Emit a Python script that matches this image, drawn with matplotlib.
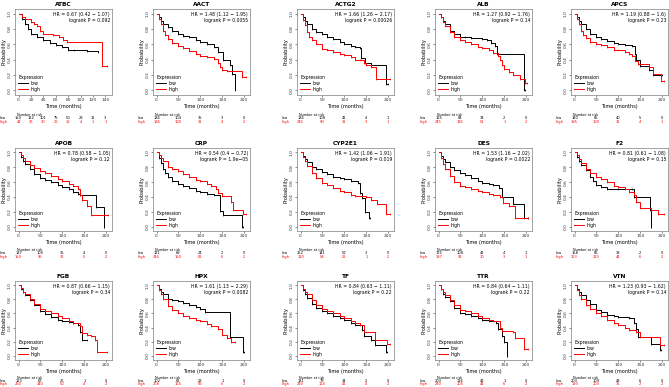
import matplotlib.pyplot as plt
import numpy as np

plt.rcParams['font.family'] = 'DejaVu Sans'

genes = ["ATBC", "AACT", "ACTG2", "ALB", "APCS",
         "APOB", "CRP", "CYP2E1", "DES", "F2",
         "FGB", "HPX", "TF", "TTR", "VTN"]
hr_labels = ["HR = 0.67 (0.42 \u2212 1.07)", "HR = 1.48 (1.12 \u2212 1.95)", "HR = 1.66 (1.26 \u2212 2.17)",
             "HR = 1.27 (0.92 \u2212 1.76)", "HR = 1.19 (0.88 \u2212 1.6)",
             "HR = 0.78 (0.58 \u2212 1.05)", "HR = 0.54 (0.4 \u2212 0.72)", "HR = 1.42 (1.06 \u2212 1.91)",
             "HR = 1.53 (1.16 \u2212 2.02)", "HR = 0.81 (0.61 \u2212 1.08)",
             "HR = 0.87 (0.66 \u2212 1.15)", "HR = 1.61 (1.13 \u2212 2.29)", "HR = 0.84 (0.63 \u2212 1.11)",
             "HR = 0.84 (0.64 \u2212 1.11)", "HR = 1.23 (0.93 \u2212 1.62)"]
p_labels = ["logrank P = 0.092", "logrank P = 0.0055", "logrank P = 0.00026", "logrank P = 0.14",
            "logrank P = 0.23", "logrank P = 0.12", "logrank P = 1.9e\u221205", "logrank P = 0.019",
            "logrank P = 0.0022", "logrank P = 0.15", "logrank P = 0.34", "logrank P = 0.0082",
            "logrank P = 0.22", "logrank P = 0.22", "logrank P = 0.14"]

# survival curves (months, probability)
atbc_low = [(0, 1.0), (5, 0.93), (10, 0.87), (15, 0.80), (20, 0.74), (30, 0.70), (40, 0.66), (50, 0.62),
            (60, 0.59), (70, 0.56), (80, 0.53), (90, 0.52), (110, 0.51), (128, 0.50)]
atbc_high = [(0, 1.0), (5, 0.96), (10, 0.93), (20, 0.89), (25, 0.87), (30, 0.84), (35, 0.78), (40, 0.74),
             (55, 0.72), (65, 0.70), (72, 0.66), (78, 0.63), (135, 0.32), (143, 0.32)]
aact_low = [(0, 1.0), (5, 0.95), (10, 0.91), (15, 0.87), (25, 0.82), (35, 0.77), (50, 0.73), (60, 0.71),
            (75, 0.69), (90, 0.65), (100, 0.63), (115, 0.60), (130, 0.56), (140, 0.50), (152, 0.40),
            (168, 0.33), (172, 0.22), (178, 0.0)]
aact_high = [(0, 1.0), (5, 0.93), (10, 0.86), (15, 0.78), (20, 0.72), (25, 0.67), (35, 0.62), (50, 0.58),
             (60, 0.55), (75, 0.51), (90, 0.47), (100, 0.45), (115, 0.43), (130, 0.41), (140, 0.36),
             (145, 0.30), (150, 0.27), (160, 0.25), (195, 0.17), (204, 0.17)]
actg2_low = [(0, 1.0), (5, 0.95), (10, 0.90), (15, 0.86), (25, 0.80), (35, 0.76), (50, 0.73), (60, 0.70),
             (75, 0.67), (90, 0.63), (100, 0.61), (115, 0.58), (125, 0.57), (135, 0.55), (138, 0.42),
             (148, 0.36), (160, 0.33), (195, 0.08), (200, 0.08)]
actg2_high = [(0, 1.0), (5, 0.92), (10, 0.85), (15, 0.76), (20, 0.70), (25, 0.65), (35, 0.60), (50, 0.54),
              (60, 0.52), (75, 0.50), (90, 0.47), (100, 0.46), (115, 0.43), (125, 0.40), (135, 0.39),
              (145, 0.36), (150, 0.33), (160, 0.30), (172, 0.15), (203, 0.15)]
alb_low = [(0, 1.0), (5, 0.95), (10, 0.90), (15, 0.86), (25, 0.78), (35, 0.74), (50, 0.70), (60, 0.69),
           (75, 0.68), (100, 0.67), (110, 0.66), (120, 0.62), (128, 0.58), (134, 0.47), (196, 0.0),
           (197, 0.0)]
alb_high = [(0, 1.0), (5, 0.95), (10, 0.89), (15, 0.84), (25, 0.76), (35, 0.70), (50, 0.65), (60, 0.63),
            (75, 0.61), (90, 0.57), (100, 0.55), (115, 0.52), (125, 0.49), (135, 0.45), (140, 0.39),
            (145, 0.33), (150, 0.28), (160, 0.24), (170, 0.20), (185, 0.15), (198, 0.10), (202, 0.10)]
apcs_low = [(0, 1.0), (5, 0.95), (10, 0.91), (15, 0.87), (25, 0.80), (35, 0.74), (50, 0.69), (60, 0.67),
            (75, 0.64), (90, 0.62), (100, 0.61), (115, 0.59), (130, 0.58), (137, 0.47), (140, 0.40),
            (150, 0.32), (170, 0.26), (180, 0.20), (200, 0.20)]
apcs_high = [(0, 1.0), (5, 0.93), (10, 0.86), (15, 0.78), (20, 0.72), (25, 0.68), (35, 0.63), (50, 0.61),
             (60, 0.59), (75, 0.56), (90, 0.53), (100, 0.52), (115, 0.50), (125, 0.48), (132, 0.45),
             (137, 0.38), (145, 0.35), (170, 0.30), (180, 0.22), (198, 0.12), (203, 0.12)]
apob_low = [(0, 1.0), (5, 0.94), (10, 0.88), (15, 0.84), (25, 0.78), (35, 0.71), (50, 0.66), (60, 0.63),
            (75, 0.60), (90, 0.56), (100, 0.53), (115, 0.50), (125, 0.47), (135, 0.44), (140, 0.42),
            (177, 0.27), (195, 0.0), (196, 0.0)]
apob_high = [(0, 1.0), (5, 0.96), (10, 0.92), (15, 0.88), (25, 0.83), (35, 0.79), (50, 0.75), (60, 0.72),
             (75, 0.68), (90, 0.64), (100, 0.62), (115, 0.58), (125, 0.55), (135, 0.50), (140, 0.42),
             (145, 0.36), (155, 0.28), (165, 0.15), (203, 0.15)]
crp_low = [(0, 1.0), (5, 0.93), (10, 0.86), (15, 0.78), (20, 0.72), (25, 0.67), (35, 0.62), (50, 0.58),
           (60, 0.55), (75, 0.52), (90, 0.48), (100, 0.46), (115, 0.44), (130, 0.42), (145, 0.21),
           (152, 0.15), (196, 0.0), (197, 0.0)]
crp_high = [(0, 1.0), (5, 0.97), (10, 0.93), (15, 0.88), (25, 0.80), (35, 0.77), (50, 0.75), (60, 0.71),
            (75, 0.67), (90, 0.63), (100, 0.61), (115, 0.57), (125, 0.55), (135, 0.50), (140, 0.45),
            (150, 0.41), (170, 0.33), (175, 0.22), (198, 0.17), (203, 0.17)]
cyp2e1_low = [(0, 1.0), (5, 0.95), (10, 0.91), (15, 0.87), (25, 0.80), (35, 0.77), (50, 0.74), (60, 0.71),
              (75, 0.67), (90, 0.65), (100, 0.64), (115, 0.62), (130, 0.59), (135, 0.45), (140, 0.38),
              (148, 0.20), (155, 0.12), (158, 0.12)]
cyp2e1_high = [(0, 1.0), (5, 0.94), (10, 0.88), (15, 0.82), (25, 0.72), (35, 0.65), (50, 0.59), (60, 0.56),
               (75, 0.52), (90, 0.48), (100, 0.46), (115, 0.43), (125, 0.41), (150, 0.40), (160, 0.36),
               (175, 0.31), (195, 0.17), (203, 0.17)]
des_low = [(0, 1.0), (5, 0.95), (10, 0.91), (15, 0.87), (25, 0.81), (35, 0.76), (50, 0.72), (60, 0.70),
           (75, 0.66), (90, 0.62), (100, 0.59), (115, 0.57), (125, 0.56), (138, 0.52), (145, 0.40),
           (170, 0.30), (195, 0.12), (203, 0.12)]
des_high = [(0, 1.0), (5, 0.93), (10, 0.85), (15, 0.78), (25, 0.68), (35, 0.60), (50, 0.55), (60, 0.53),
            (75, 0.51), (90, 0.48), (100, 0.47), (115, 0.44), (125, 0.43), (140, 0.40), (148, 0.32),
            (160, 0.28), (175, 0.12), (203, 0.12)]
f2_low = [(0, 1.0), (5, 0.94), (10, 0.88), (15, 0.83), (25, 0.76), (35, 0.67), (42, 0.62), (50, 0.56),
          (60, 0.53), (75, 0.51), (100, 0.51), (130, 0.51), (135, 0.40), (172, 0.23), (174, 0.0),
          (175, 0.0)]
f2_high = [(0, 1.0), (5, 0.96), (10, 0.91), (15, 0.86), (25, 0.78), (35, 0.72), (50, 0.67), (60, 0.64),
           (75, 0.60), (90, 0.55), (100, 0.53), (115, 0.50), (125, 0.47), (135, 0.42), (140, 0.33),
           (150, 0.25), (175, 0.22), (190, 0.17), (203, 0.17)]
fgb_low = [(0, 1.0), (5, 0.95), (10, 0.90), (15, 0.86), (25, 0.79), (35, 0.72), (50, 0.63), (60, 0.59),
           (75, 0.55), (90, 0.51), (100, 0.49), (115, 0.48), (125, 0.47), (135, 0.43), (140, 0.33),
           (145, 0.23), (155, 0.22)]
fgb_high = [(0, 1.0), (5, 0.96), (10, 0.91), (15, 0.87), (25, 0.81), (35, 0.74), (50, 0.67), (60, 0.64),
            (75, 0.61), (90, 0.57), (100, 0.54), (115, 0.50), (125, 0.47), (140, 0.42), (145, 0.32),
            (155, 0.30), (165, 0.28), (175, 0.22), (180, 0.06), (202, 0.06)]
hpx_low = [(0, 1.0), (5, 0.95), (10, 0.91), (15, 0.87), (25, 0.81), (35, 0.79), (50, 0.77), (60, 0.75),
           (75, 0.72), (90, 0.69), (100, 0.67), (110, 0.62), (168, 0.27), (197, 0.05), (199, 0.05)]
hpx_high = [(0, 1.0), (5, 0.93), (10, 0.87), (15, 0.80), (25, 0.70), (35, 0.65), (50, 0.60), (60, 0.57),
            (75, 0.54), (90, 0.51), (100, 0.49), (115, 0.45), (125, 0.42), (140, 0.38), (150, 0.30),
            (160, 0.25), (170, 0.20), (178, 0.20)]
tf_low = [(0, 1.0), (5, 0.93), (10, 0.87), (15, 0.82), (25, 0.74), (35, 0.68), (50, 0.63), (60, 0.60),
          (75, 0.56), (90, 0.53), (100, 0.51), (115, 0.47), (125, 0.44), (140, 0.37), (145, 0.28),
          (160, 0.22), (170, 0.15), (195, 0.05), (197, 0.05)]
tf_high = [(0, 1.0), (5, 0.95), (10, 0.91), (15, 0.87), (25, 0.79), (35, 0.72), (50, 0.66), (60, 0.63),
           (75, 0.60), (90, 0.56), (100, 0.53), (115, 0.50), (125, 0.47), (135, 0.44), (145, 0.33),
           (170, 0.22), (197, 0.17), (203, 0.17)]
ttr_low = [(0, 1.0), (5, 0.94), (10, 0.88), (15, 0.84), (25, 0.77), (35, 0.68), (50, 0.61), (60, 0.59),
           (75, 0.56), (90, 0.53), (100, 0.51), (115, 0.49), (130, 0.47), (135, 0.38), (145, 0.28),
           (150, 0.20), (156, 0.0), (157, 0.0)]
ttr_high = [(0, 1.0), (5, 0.95), (10, 0.90), (15, 0.86), (25, 0.79), (35, 0.72), (50, 0.65), (60, 0.63),
            (75, 0.60), (90, 0.56), (100, 0.53), (115, 0.51), (125, 0.49), (140, 0.40), (145, 0.35),
            (170, 0.33), (175, 0.25), (195, 0.10), (203, 0.10)]
vtn_low = [(0, 1.0), (5, 0.95), (10, 0.90), (15, 0.86), (25, 0.79), (35, 0.73), (50, 0.65), (60, 0.62),
           (75, 0.58), (90, 0.56), (100, 0.55), (125, 0.54), (135, 0.47), (140, 0.38), (145, 0.27),
           (175, 0.17), (195, 0.08), (198, 0.08)]
vtn_high = [(0, 1.0), (5, 0.93), (10, 0.86), (15, 0.80), (25, 0.72), (35, 0.66), (50, 0.61), (60, 0.57),
            (75, 0.51), (90, 0.47), (100, 0.44), (115, 0.40), (125, 0.37), (140, 0.33), (150, 0.27),
            (195, 0.15), (203, 0.15)]

# number at risk (at each x tick)
risk_low = [[150, 122, 101, 75, 50, 28, 11, 3], [186, 104, 35, 3, 0], [186, 108, 41, 4, 1],
            [125, 84, 34, 2, 0], [140, 85, 40, 5, 0],
            [187, 100, 35, 4, 0], [121, 69, 24, 2, 0], [252, 141, 52, 3, 0],
            [175, 108, 41, 4, 1], [158, 86, 33, 2, 0],
            [123, 67, 26, 1, 0], [102, 61, 23, 1, 0], [131, 79, 34, 2, 0],
            [203, 116, 43, 1, 0], [203, 109, 43, 6, 0]]
risk_high = [[42, 36, 30, 26, 15, 4, 1, 1], [186, 100, 31, 4, 2], [246, 90, 31, 3, 1],
             [245, 136, 51, 1, 2], [195, 100, 31, 4, 1],
             [159, 95, 36, 5, 2], [246, 150, 61, 6, 2], [120, 58, 21, 1, 2],
             [197, 91, 30, 3, 1], [213, 123, 44, 6, 2],
             [250, 140, 50, 4, 2], [268, 155, 55, 5, 2], [240, 114, 41, 4, 2],
             [240, 105, 44, 6, 2], [193, 103, 35, 2, 2]]

curves = [(atbc_low, atbc_high), (aact_low, aact_high), (actg2_low, actg2_high), (alb_low, alb_high),
          (apcs_low, apcs_high), (apob_low, apob_high), (crp_low, crp_high), (cyp2e1_low, cyp2e1_high),
          (des_low, des_high), (f2_low, f2_high), (fgb_low, fgb_high), (hpx_low, hpx_high),
          (tf_low, tf_high), (ttr_low, ttr_high), (vtn_low, vtn_high)]

W, H = 669, 387
fig = plt.figure(figsize=(W / 100, H / 100), dpi=100)

col_left = [15, 153, 297, 435, 571]
box_w = 97
row_top = [9, 148, 281]
row_bot = [95, 231, 360]
grey = "#7f7f7f"

for i, gene in enumerate(genes):
    r, c = divmod(i, 5)
    ax = fig.add_axes([col_left[c] / W, 1 - row_bot[r] / H, box_w / W, (row_bot[r] - row_top[r]) / H])
    low, high = curves[i]
    for data, col, lab in [(low, "black", "low"), (high, "red", "high")]:
        t = [p[0] for p in data]
        s = [p[1] for p in data]
        ax.plot(t, s, drawstyle="steps-post", color=col, lw=0.7, label=lab)
        ax.plot(t[1:], s[1:], ls="none", marker="|", ms=1.5, mew=0.4, color=col)
    if gene == "ATBC":
        xt = np.arange(0, 141, 20)
        xmax = 145
    else:
        xt = np.arange(0, 201, 50)
        xmax = 205
    ax.set_xlim(-0.04 * xmax, 1.04 * xmax)
    ax.set_ylim(-0.06, 1.06)
    ax.set_xticks(xt)
    ax.set_yticks(np.arange(0, 1.01, 0.2))
    ax.set_yticklabels(["0.0", "0.2", "0.4", "0.6", "0.8", "1.0"], rotation=90, va="center")
    ax.tick_params(labelsize=3.2, length=1.5, width=0.4, pad=1, colors="#333333")
    for sp in ax.spines.values():
        sp.set_color(grey)
        sp.set_linewidth(0.5)
    ax.set_title(gene, fontsize=4.2, fontweight="bold", pad=2.5)
    ax.set_xlabel("Time (months)", fontsize=3.6, labelpad=1)
    ax.set_ylabel("Probability", fontsize=3.6, labelpad=1)
    ax.text(0.98, 0.96, hr_labels[i], transform=ax.transAxes, ha="right", va="top", fontsize=3.3)
    ax.text(0.98, 0.89, p_labels[i], transform=ax.transAxes, ha="right", va="top", fontsize=3.3)
    leg = ax.legend(loc="lower left", title="Expression", frameon=False, fontsize=3.3,
                    title_fontsize=3.3, handlelength=2.2, handletextpad=0.6, labelspacing=0.2,
                    borderaxespad=0.3)
    leg._legend_box.align = "left"
    # number at risk table
    ax.text(0.02, -0.23, "Number at risk", transform=ax.transAxes, fontsize=2.4, va="center")
    ax.text(-0.16, -0.27, "low", transform=ax.transAxes, fontsize=2.6, va="center", color="black")
    ax.text(-0.16, -0.31, "high", transform=ax.transAxes, fontsize=2.6, va="center", color="red")
    for xv, nl, nh in zip(xt, risk_low[i], risk_high[i]):
        ax.text(xv, -0.27, str(nl), transform=ax.get_xaxis_transform(), fontsize=2.6,
                ha="center", va="center", color="black")
        ax.text(xv, -0.31, str(nh), transform=ax.get_xaxis_transform(), fontsize=2.6,
                ha="center", va="center", color="red")

fig.savefig("out.png", dpi=100)
